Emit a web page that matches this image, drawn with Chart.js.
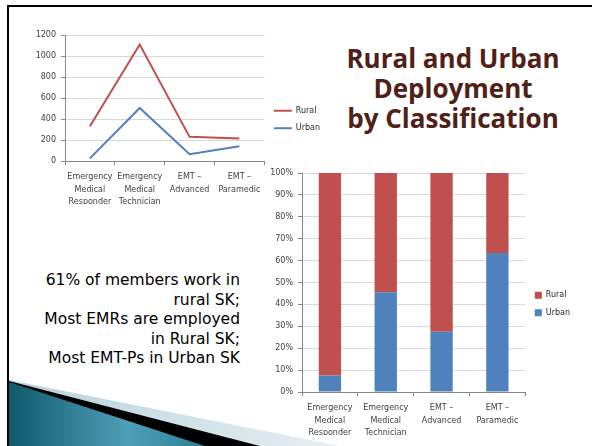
<!DOCTYPE html>
<html>
<head>
<meta charset="utf-8">
<script src="https://cdn.jsdelivr.net/npm/chart.js@4.4.1/dist/chart.umd.min.js"></script>
<style>
html, body { margin: 0; padding: 0; background: #fff; }
body { width: 592px; height: 446px; position: relative; overflow: hidden; font-family: "DejaVu Sans", sans-serif; }
#frame { position: absolute; left: 7px; top: 5px; width: 620px; height: 470px; border-left: 2px solid #000; border-top: 2px solid #000; }
#deco { position: absolute; left: 0; top: 0; }
#lineChart { position: absolute; left: 20px; top: 22px; }
#barChart { position: absolute; left: 250px; top: 160px; }
#title { position: absolute; left: 330px; top: 43px; width: 246px; text-align: center; font: 700 26px "Open Sans", sans-serif; line-height: 30px; color: #4f2117; }
#note { position: absolute; right: 352px; top: 271px; text-align: right; font: 15.5px "DejaVu Sans", sans-serif; line-height: 19.5px; color: #000; white-space: nowrap; }
</style>
</head>
<body>
<div id="frame"></div>
<svg id="deco" width="592" height="446">
  <defs>
    <linearGradient id="lightBand" x1="9" y1="0" x2="340" y2="0" gradientUnits="userSpaceOnUse">
      <stop offset="0" stop-color="#b7d1dc"/>
      <stop offset="1" stop-color="#e8f0f4"/>
    </linearGradient>
    <linearGradient id="teal" x1="9" y1="0" x2="207" y2="0" gradientUnits="userSpaceOnUse">
      <stop offset="0" stop-color="#0f5a6c"/>
      <stop offset="0.6" stop-color="#4f9fb7"/>
      <stop offset="1" stop-color="#2c7d94"/>
    </linearGradient>
  </defs>
  <polygon points="9,380 340,446 9,446" fill="url(#lightBand)"/>
  <polygon points="9,381 260,446 9,446" fill="#000"/>
  <polygon points="9,382 205,446 9,446" fill="url(#teal)"/>
</svg>

<canvas id="lineChart" width="310" height="199"></canvas>
<canvas id="barChart" width="330" height="285"></canvas>

<div id="title">Rural and Urban<br>Deployment<br>by Classification</div>
<div id="note">61% of members work in<br>rural SK;<br>Most EMRs are employed<br>in Rural SK;<br>Most EMT-Ps in Urban SK</div>

<script>
// Categories shared by both charts
const categories = [
    ["Emergency", "Medical", "Responder"],
    ["Emergency", "Medical", "Technician"],
    ["EMT –", "Advanced"],
    ["EMT –", "Paramedic"]
];

// Line chart: number of members
const ruralCount = [330, 1110, 230, 215];
const urbanCount = [25, 505, 65, 140];
const countTicks = [0, 200, 400, 600, 800, 1000, 1200];

// Stacked bar chart: share of members (%)
const urbanShare = [7.5, 45.5, 27.5, 63.5];
const ruralShare = [92.5, 54.5, 72.5, 36.5];

const red = "#c0504d";
const blue = "#4f81bd";
const axisGray = "#868686";
const gridGray = "#d9d9d9";
const textGray = "#404040";

Chart.defaults.font.family = "DejaVu Sans";
Chart.defaults.font.size = 8;
Chart.defaults.color = textGray;

const legendLabels = {
    color: "#262626",
    font: { size: 8 },
    padding: 9.5
};

// Line chart (top left)
new Chart(document.getElementById("lineChart"), {
    type: "line",
    data: {
        labels: categories,
        datasets: [
            { label: "Rural", data: ruralCount, borderColor: red, backgroundColor: red, borderWidth: 2, pointRadius: 0, tension: 0 },
            { label: "Urban", data: urbanCount, borderColor: blue, backgroundColor: blue, borderWidth: 2, pointRadius: 0, tension: 0 }
        ]
    },
    options: {
        responsive: false,
        animation: false,
        layout: { padding: { top: 13, right: 0, bottom: 17, left: 0 } },
        plugins: {
            tooltip: { enabled: false },
            legend: {
                position: "right",
                labels: Object.assign({}, legendLabels, { usePointStyle: true, pointStyle: "line", pointStyleWidth: 18 })
            }
        },
        scales: {
            x: {
                offset: true,
                grid: { offset: true, drawOnChartArea: false, tickLength: 4, color: axisGray },
                border: { color: axisGray },
                ticks: { padding: 5.5, maxRotation: 0, autoSkip: false, font: { size: 8, lineHeight: 1.58 } },
                afterFit(scale) { scale.height = 43; }
            },
            y: {
                min: 0,
                max: 1200,
                afterBuildTicks(scale) { scale.ticks = countTicks.map(v => ({ value: v })); },
                grid: { color: gridGray, tickColor: axisGray, tickLength: 4 },
                border: { color: axisGray },
                ticks: { padding: 5, callback: v => String(v) },
                afterFit(scale) { scale.width = 45; }
            }
        }
    }
});

// 100% stacked bar chart (bottom right)
new Chart(document.getElementById("barChart"), {
    type: "bar",
    data: {
        labels: categories,
        datasets: [
            { label: "Urban", data: urbanShare, backgroundColor: blue, borderWidth: 0 },
            { label: "Rural", data: ruralShare, backgroundColor: red, borderWidth: 0 }
        ]
    },
    options: {
        responsive: false,
        animation: false,
        layout: { padding: { top: 13, right: 0, bottom: 10, left: 0 } },
        datasets: { bar: { barPercentage: 0.4, categoryPercentage: 1 } },
        plugins: {
            tooltip: { enabled: false },
            legend: {
                position: "right",
                reverse: true,
                labels: Object.assign({}, legendLabels, { boxWidth: 7, boxHeight: 7 })
            }
        },
        scales: {
            x: {
                stacked: true,
                grid: { offset: true, drawOnChartArea: false, tickLength: 4, color: axisGray },
                border: { color: axisGray },
                ticks: { padding: 5.5, maxRotation: 0, autoSkip: false, font: { size: 8, lineHeight: 1.58 } },
                afterFit(scale) { scale.height = 43; }
            },
            y: {
                stacked: true,
                min: 0,
                max: 100,
                grid: { color: gridGray, tickColor: axisGray, tickLength: 4 },
                border: { color: axisGray },
                ticks: { stepSize: 10, padding: 5, callback: v => v + "%" },
                afterFit(scale) { scale.width = 52; }
            }
        }
    }
});
</script>
</body>
</html>
